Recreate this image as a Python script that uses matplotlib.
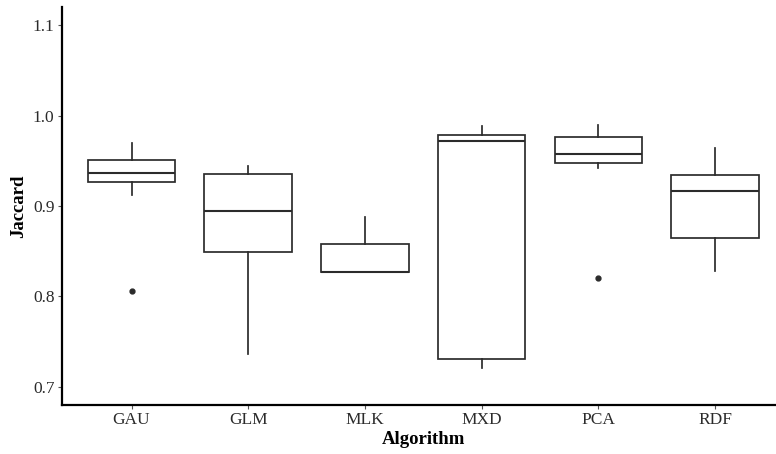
import matplotlib.pyplot as plt

plt.rcParams["font.family"] = ["Liberation Serif", "DejaVu Serif"]

algorithms = ["GAU", "GLM", "MLK", "MXD", "PCA", "RDF"]
whisker_low = [0.9125, 0.736, 0.827, 0.721, 0.9416, 0.8277]
q1 = [0.926, 0.849, 0.8266, 0.731, 0.947, 0.865]
median = [0.937, 0.895, 0.827, 0.972, 0.957, 0.9166]
q3 = [0.951, 0.935, 0.858, 0.978, 0.976, 0.9346]
whisker_high = [0.970, 0.944, 0.888, 0.9885, 0.989, 0.9636]
outliers = [[0.806], [], [], [], [0.820], []]

stats = []
for i, name in enumerate(algorithms):
    stats.append({
        "label": name,
        "whislo": whisker_low[i],
        "q1": q1[i],
        "med": median[i],
        "q3": q3[i],
        "whishi": whisker_high[i],
        "fliers": outliers[i],
    })

line_col = "#2b2b2b"

fig = plt.figure(figsize=(7.76, 4.54), dpi=100)
ax = fig.add_axes([61.5 / 776, 49 / 454, (785 - 61.5) / 776, 398 / 454])

positions = list(range(1, len(algorithms) + 1))
ax.bxp(
    stats,
    positions=positions,
    widths=0.75,
    showcaps=False,
    patch_artist=True,
    boxprops=dict(facecolor="white", edgecolor=line_col, linewidth=1.25),
    medianprops=dict(color=line_col, linewidth=1.5),
    whiskerprops=dict(color=line_col, linewidth=1.25),
    flierprops=dict(marker="o", markersize=3.5, markerfacecolor=line_col,
                    markeredgecolor=line_col),
)

ax.set_xlim(0.4, 6.6)
ax.set_ylim(0.68, 1.12)
ax.set_yticks([0.7, 0.8, 0.9, 1.0, 1.1])
ax.set_yticklabels(["0.7", "0.8", "0.9", "1.0", "1.1"])
ax.set_xticks(positions)
ax.set_xticklabels(algorithms)

for side in ["top", "right"]:
    ax.spines[side].set_visible(False)
for side in ["left", "bottom"]:
    ax.spines[side].set_linewidth(1.6)
    ax.spines[side].set_color("black")

ax.tick_params(axis="both", length=3, width=0.8, color="#555555",
               labelsize=12.5, labelcolor="#2b2b2b", pad=2)

ax.set_xlabel("Algorithm", fontsize=13.5, fontweight="bold", labelpad=2)
ax.set_ylabel("Jaccard", fontsize=13.5, fontweight="bold", labelpad=4)

fig.savefig("out.png", dpi=100)
